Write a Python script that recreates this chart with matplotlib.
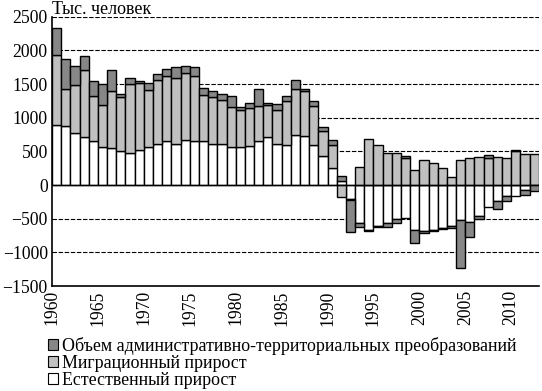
import numpy as np
import matplotlib
matplotlib.use("Agg")
import matplotlib.pyplot as plt
from matplotlib.patches import Patch

plt.rcParams['font.family'] = ['Liberation Serif', 'DejaVu Serif']

years = list(range(1960, 2013))

# естественный прирост, тыс. человек
natural = [886, 871, 767, 708, 648, 559, 545, 500, 470, 515,
           559, 604, 648, 604, 663, 648, 648, 604, 604, 559,
           559, 574, 648, 708, 604, 589, 738, 723, 589, 426,
           248, 54, -200, -559, -663, -614, -559, -510, -485, -663,
           -678, -663, -634, -604, -520, -554, -465, -332, -243, -168,
           -168, -79, 0]

# миграционный прирост
migration = [1054, 550, 713, 995, 669, 624, 846, 802, 1025, 995,
             847, 950, 966, 980, 995, 966, 684, 698, 653, 594,
             550, 565, 520, 475, 505, 653, 683, 668, 579, 371,
             341, -183, -25, 262, 678, 589, 470, 470, 396, 218,
             366, 322, 248, 114, 366, 396, 411, 396, 411, 396,
             500, 455, 455]

# административно-территориальные преобразования
admin = [401, 445, 282, 208, 227, 312, 312, 44, 89, 34,
         104, 89, 104, 163, 104, 133, 104, 89, 89, 164,
         44, 74, 253, 30, 89, 75, 133, 30, 74, 59,
         74, 75, -465, -69, -15, -15, -60, -50, 30, -193,
         -30, -15, -15, -30, -708, -213, -45, 44, -119, -74,
         15, -74, -94]

labels = ['Объем административно-территориальных преобразований',
          'Миграционный прирост',
          'Естественный прирост']
colors = {'admin': '#878787', 'migration': '#c0c0c0', 'natural': '#ffffff'}

fig = plt.figure(figsize=(5.42, 3.91), dpi=100)
ax = fig.add_axes([0.096, 0.2685, 0.898, 0.6885])

x = np.array(years)
pos_bottom = np.zeros(len(years))
neg_bottom = np.zeros(len(years))
for key, vals in [('natural', natural), ('migration', migration), ('admin', admin)]:
    v = np.array(vals, dtype=float)
    bottom = np.where(v >= 0, pos_bottom, neg_bottom)
    ax.bar(x, v, width=1.0, bottom=bottom, align='edge', color=colors[key],
           edgecolor='black', linewidth=1.0, zorder=3)
    pos_bottom += np.where(v >= 0, v, 0)
    neg_bottom += np.where(v < 0, v, 0)

for yv in [-1000, -500, 500, 1000, 1500, 2000, 2500]:
    ax.axhline(yv, color='black', linewidth=0.8, dashes=(4, 1.5), zorder=1)
ax.axhline(0, color='black', linewidth=1.0, zorder=4)

ax.set_xlim(1960, 2013)
ax.set_ylim(-1500, 2500)
ax.set_yticks(range(-1500, 2501, 500))
ax.set_yticklabels([str(t).replace('-', '\u2212') for t in range(-1500, 2501, 500)])
ax.set_xticks(range(1960, 2011, 5))
ax.set_xticklabels([str(t) for t in range(1960, 2011, 5)], rotation=90)
ax.tick_params(axis='both', length=0, labelsize=12.7, pad=3)

for s in ['top', 'right']:
    ax.spines[s].set_visible(False)
ax.spines['left'].set_linewidth(1.2)
ax.spines['bottom'].set_linewidth(1.2)

fig.text(0.096, 0.998, 'Тыс. человек', fontsize=13, ha='left', va='top')

handles = [Patch(facecolor=colors['admin'], edgecolor='black', linewidth=0.8),
           Patch(facecolor=colors['migration'], edgecolor='black', linewidth=0.8),
           Patch(facecolor=colors['natural'], edgecolor='black', linewidth=0.8)]
leg = fig.legend(handles, labels, loc='upper left',
                 bbox_to_anchor=(48 / 542, 1 - 337 / 391),
                 frameon=False, fontsize=12.9, handlelength=0.55, handleheight=0.55,
                 handletextpad=0.25, labelspacing=0.0, borderpad=0, borderaxespad=0)

fig.savefig('out.png', dpi=100)
